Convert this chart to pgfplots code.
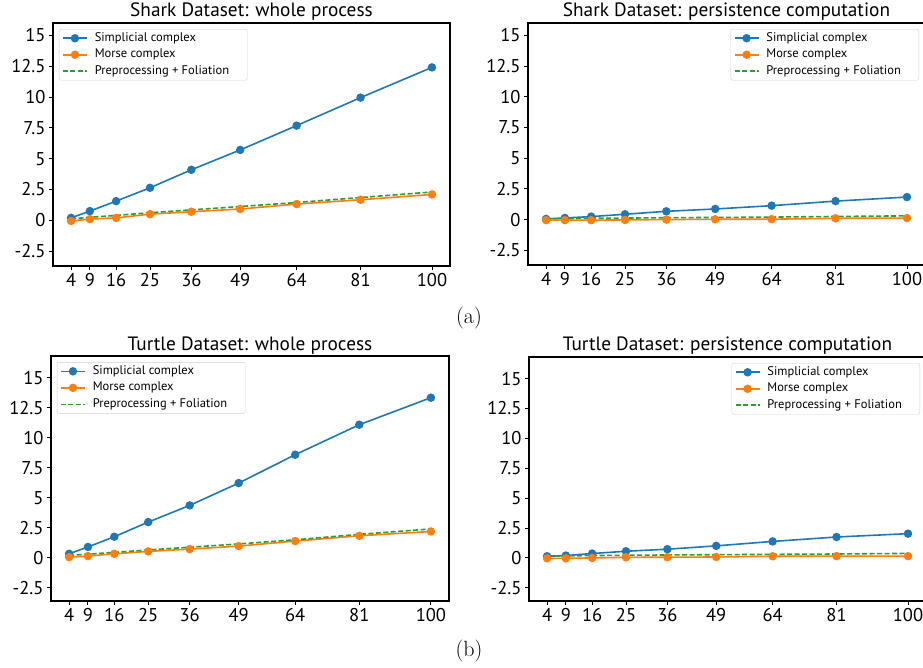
\documentclass[border=0pt]{standalone}
\usepackage{pgfplots}
\pgfplotsset{compat=1.18}
\usepackage{fontspec}
\newfontfamily\plotfont{PT Sans}

\definecolor{tabblue}{HTML}{1F77B4}
\definecolor{taborange}{HTML}{FF7F0E}
\definecolor{tabgreen}{HTML}{2CA02C}

\newcommand{\legpad}{\rule{14pt}{0pt}}

\pgfplotsset{
  myaxis/.style={
    scale only axis,
    xmin=-0.8, xmax=104.8,
    xtick={4,9,16,25,36,49,64,81,100},
    xticklabels={4,9,16,25,36,49,64,81,100},
    ytick={-2.5,0,2.5,5,7.5,10,12.5,15},
    yticklabels={-2.5,0,2.5,5,7.5,10,12.5,15},
    /pgf/number format/assume math mode=true,
    tick align=outside, xtick pos=bottom, ytick pos=left,
    major tick length=4pt,
    tick style={black, line width=0.9pt},
    axis line style={line width=1.4pt},
    ticklabel style={font=\plotfont\fontsize{18.5}{18.5}\selectfont},
    every axis title/.style={font=\plotfont\fontsize{19.3}{19.3}\selectfont, at={(0.5,1)}, anchor=base, inner sep=0pt, yshift=6pt},
    legend style={font=\plotfont\fontsize{12.5}{14}\selectfont, draw=black!18, rounded corners=2pt,
      inner xsep=3pt, inner ysep=2pt, row sep=2.5pt,
      nodes={inner sep=1pt, text height=9pt, text depth=3pt},
      /tikz/every odd column/.append style={column sep=6pt}},
    legend cell align=left,
    every axis plot/.append style={line width=1.6pt},
  },
  simp/.style={tabblue, mark=*, mark size=3.4pt, mark options={solid},
    legend image code/.code={
      \draw[line width=1.6pt, tabblue, mark=*, mark size=3.4pt, mark repeat=2, mark phase=2] plot coordinates {(0pt,0pt) (12pt,0pt) (24pt,0pt)};}},
  morse/.style={taborange, mark=*, mark size=3.4pt, mark options={solid},
    legend image code/.code={
      \draw[line width=1.6pt, taborange, mark=*, mark size=3.4pt, mark repeat=2, mark phase=2] plot coordinates {(0pt,0pt) (12pt,0pt) (24pt,0pt)};}},
  prep/.style={tabgreen, dash pattern=on 5pt off 2.5pt,
    legend image code/.code={
      \draw[line width=1.6pt, tabgreen, dash pattern=on 5pt off 2.5pt] (0pt,0pt) -- (24pt,0pt);}},
  leftleg/.style={legend style={at={(0.015,0.975)}, anchor=north west}},
  rightleg/.style={legend style={at={(0.985,0.975)}, anchor=north east}},
}

\begin{document}
\begin{tikzpicture}
\useasboundingbox (0,0) rectangle (923pt,667pt);

% ---------- Shark: whole process
\begin{axis}[myaxis, leftleg, at={(53pt,401pt)}, anchor=south west,
  width=397pt, height=243pt, ymin=-3.7, ymax=16,
  title={Shark Dataset: whole process}]
\addplot[simp] coordinates {(4,0.2) (9,0.75) (16,1.56) (25,2.64) (36,4.1) (49,5.71) (64,7.68) (81,9.95) (100,12.4)};
\addlegendentry{Simplicial complex}
\addplot[morse] coordinates {(4,-0.05) (9,0.1) (16,0.2) (25,0.5) (36,0.7) (49,0.92) (64,1.32) (81,1.67) (100,2.1)};
\addlegendentry{Morse complex}
\addplot[prep] coordinates {(4,0.12) (9,0.25) (16,0.4) (25,0.62) (36,0.85) (49,1.12) (64,1.45) (81,1.85) (100,2.3)};
\addlegendentry{Preprocessing + Foliation\legpad}
\end{axis}

% ---------- Shark: persistence
\begin{axis}[myaxis, rightleg, at={(528pt,402pt)}, anchor=south west,
  width=397pt, height=242pt, ymin=-3.7, ymax=16,
  title={Shark Dataset: persistence computation}]
\addplot[simp] coordinates {(4,0.05) (9,0.13) (16,0.24) (25,0.43) (36,0.67) (49,0.86) (64,1.13) (81,1.5) (100,1.83)};
\addlegendentry{Simplicial complex}
\addplot[morse] coordinates {(4,-0.05) (9,-0.05) (16,-0.05) (25,-0.03) (36,0.0) (49,0.02) (64,0.03) (81,0.1) (100,0.12)};
\addlegendentry{Morse complex}
\addplot[prep] coordinates {(4,0.07) (9,0.08) (16,0.1) (25,0.12) (36,0.15) (49,0.17) (64,0.2) (81,0.25) (100,0.3)};
\addlegendentry{Preprocessing + Foliation\legpad}
\end{axis}

% ---------- Turtle: whole process
\begin{axis}[myaxis, leftleg, at={(51pt,66pt)}, anchor=south west,
  width=398pt, height=245pt, ymin=-3.6, ymax=16.8,
  title={Turtle Dataset: whole process}]
\addplot[simp] coordinates {(4,0.33) (9,0.9) (16,1.75) (25,2.97) (36,4.36) (49,6.22) (64,8.58) (81,11.08) (100,13.33)};
\addlegendentry{Simplicial complex}
\addplot[morse] coordinates {(4,0.05) (9,0.14) (16,0.33) (25,0.53) (36,0.72) (49,0.97) (64,1.39) (81,1.83) (100,2.19)};
\addlegendentry{Morse complex}
\addplot[prep] coordinates {(4,0.2) (9,0.3) (16,0.45) (25,0.65) (36,0.88) (49,1.15) (64,1.5) (81,1.95) (100,2.4)};
\addlegendentry{Preprocessing + Foliation\legpad}
\end{axis}

% ---------- Turtle: persistence
\begin{axis}[myaxis, rightleg, at={(529pt,66pt)}, anchor=south west,
  width=397pt, height=244pt, ymin=-3.6, ymax=16.8,
  title={Turtle Dataset: persistence computation}]
\addplot[simp] coordinates {(4,0.14) (9,0.2) (16,0.37) (25,0.56) (36,0.73) (49,1.01) (64,1.38) (81,1.75) (100,2.03)};
\addlegendentry{Simplicial complex}
\addplot[morse] coordinates {(4,-0.03) (9,-0.03) (16,0.0) (25,0.05) (36,0.06) (49,0.08) (64,0.14) (81,0.15) (100,0.15)};
\addlegendentry{Morse complex}
\addplot[prep] coordinates {(4,0.15) (9,0.17) (16,0.2) (25,0.22) (36,0.25) (49,0.27) (64,0.3) (81,0.33) (100,0.38)};
\addlegendentry{Preprocessing + Foliation\legpad}
\end{axis}

\node[font=\fontsize{22}{22}\selectfont] at (469pt,349pt) {(a)};
\node[font=\fontsize{22}{22}\selectfont] at (469pt,16pt) {(b)};
\end{tikzpicture}
\end{document}
